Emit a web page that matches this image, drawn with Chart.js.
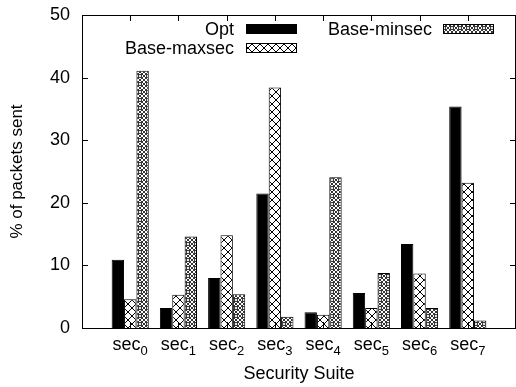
<!DOCTYPE html>
<html>
<head>
<meta charset="utf-8">
<script src="https://cdn.jsdelivr.net/npm/chart.js@4/dist/chart.umd.min.js"></script>
<style>
  html, body { margin: 0; padding: 0; background: #fff; }
  #wrap { width: 516px; height: 387px; }
</style>
</head>
<body>
<div id="wrap"><canvas id="chart" width="516" height="387"></canvas></div>
<script>
// data (blank categories at both ends give the gnuplot-style margin)
const suites = ["", "sec0", "sec1", "sec2", "sec3", "sec4", "sec5", "sec6", "sec7", ""];
const optValues = [null, 10.9, 3.2, 8.0, 21.5, 2.5, 5.6, 13.4, 35.4, null];
const maxsecValues = [null, 4.6, 5.3, 14.8, 38.4, 2.1, 3.2, 8.7, 23.2, null];
const minsecValues = [null, 41.1, 14.6, 5.4, 1.8, 24.1, 8.8, 3.2, 1.2, null];
const yTicks = [0, 10, 20, 30, 40, 50];

const FONT = "'Liberation Sans', Arial, Helvetica, sans-serif";

// patterns for the hatched bars
function makePattern(draw, size) {
  const c = document.createElement("canvas");
  c.width = size;
  c.height = size;
  const g = c.getContext("2d");
  g.fillStyle = "#fff";
  g.fillRect(0, 0, size, size);
  g.strokeStyle = "#000";
  g.fillStyle = "#000";
  g.lineWidth = 1;
  draw(g, size);
  return c.getContext("2d").createPattern(c, "repeat");
}

const crossPattern = makePattern((g, s) => {
  g.beginPath();
  g.moveTo(0, 0); g.lineTo(s, s);
  g.moveTo(s, 0); g.lineTo(0, s);
  g.stroke();
}, 8);

const densePattern = makePattern((g, s) => {
  g.lineWidth = 0.8;
  g.beginPath();
  for (let k = -s; k <= s; k += 4) {
    g.moveTo(k, 0); g.lineTo(k + s, s);
    g.moveTo(k + s, 0); g.lineTo(k, s);
  }
  g.stroke();
  g.fillStyle = "#fff";
  g.beginPath();
  g.arc(s / 2, s / 2, 1.6, 0, Math.PI * 2);
  g.fill();
  g.stroke();
}, 8);

// frame with inward tick marks, like gnuplot
const framePlugin = {
  id: "frame",
  afterDatasetsDraw(chart) {
    const { ctx, chartArea: a, scales } = chart;
    ctx.save();
    ctx.strokeStyle = "#000";
    ctx.lineWidth = 1;
    ctx.beginPath();
    yTicks.forEach((v) => {
      const y = Math.round(scales.y.getPixelForValue(v)) + 0.5;
      ctx.moveTo(a.left, y); ctx.lineTo(a.left + 6, y);
      ctx.moveTo(a.right, y); ctx.lineTo(a.right - 6, y);
    });
    suites.forEach((s, i) => {
      if (!s) return;
      const x = Math.round(scales.x.getPixelForValue(i)) + 0.5;
      ctx.moveTo(x, a.top); ctx.lineTo(x, a.top + 6);
      ctx.moveTo(x, a.bottom); ctx.lineTo(x, a.bottom - 6);
    });
    ctx.stroke();
    ctx.strokeRect(a.left + 0.5, a.top + 0.5, a.right - a.left - 1, a.bottom - a.top);
    ctx.restore();
  },
};

// x labels with subscript digit
const subLabelPlugin = {
  id: "subLabels",
  afterDraw(chart) {
    const { ctx, scales } = chart;
    ctx.save();
    ctx.fillStyle = "#000";
    ctx.textBaseline = "alphabetic";
    suites.forEach((s, i) => {
      if (!s) return;
      const base = s.slice(0, 3);
      const sub = s.slice(3);
      ctx.font = "18px " + FONT;
      const w1 = ctx.measureText(base).width;
      ctx.font = "13px " + FONT;
      const w2 = ctx.measureText(sub).width;
      const x0 = scales.x.getPixelForValue(i) - (w1 + w2) / 2;
      ctx.font = "18px " + FONT;
      ctx.textAlign = "left";
      ctx.fillText(base, x0, 350);
      ctx.font = "13px " + FONT;
      ctx.fillText(sub, x0 + w1, 355);
    });
    ctx.restore();
  },
};

// two-column key, text on the left of each sample
const keyPlugin = {
  id: "key",
  afterDraw(chart) {
    const { ctx } = chart;
    const ds = chart.data.datasets;
    const spots = [
      { idx: 0, textRight: 234, x: 246, y: 29 },
      { idx: 1, textRight: 234, x: 246, y: 48 },
      { idx: 2, textRight: 432, x: 443, y: 29 },
    ];
    ctx.save();
    ctx.font = "18px " + FONT;
    ctx.textAlign = "right";
    ctx.textBaseline = "middle";
    spots.forEach((p) => {
      const d = ds[p.idx];
      ctx.fillStyle = "#000";
      ctx.fillText(d.label, p.textRight, p.y + 1);
      ctx.fillStyle = d.backgroundColor;
      ctx.fillRect(p.x, p.y - 5, 51, 10);
      ctx.strokeStyle = "#000";
      ctx.lineWidth = 1;
      ctx.strokeRect(p.x + 0.5, p.y - 4.5, 50, 9);
    });
    ctx.restore();
  },
};

new Chart(document.getElementById("chart"), {
  type: "bar",
  data: {
    labels: suites,
    datasets: [
      { label: "Opt", data: optValues, backgroundColor: "#000", borderColor: "#000", borderWidth: 1 },
      { label: "Base-maxsec", data: maxsecValues, backgroundColor: crossPattern, borderColor: "#000", borderWidth: 1 },
      { label: "Base-minsec", data: minsecValues, backgroundColor: densePattern, borderColor: "#000", borderWidth: 1 },
    ],
  },
  options: {
    responsive: false,
    animation: false,
    devicePixelRatio: 1,
    layout: { padding: { top: 15, right: 0, left: 0, bottom: 0 } },
    datasets: { bar: { categoryPercentage: 0.77, barPercentage: 1.0 } },
    plugins: { legend: { display: false }, tooltip: { enabled: false } },
    scales: {
      x: {
        offset: false,
        grid: { display: false, drawTicks: false },
        border: { display: false },
        ticks: { display: false },
        title: {
          display: true,
          text: "Security Suite",
          color: "#000",
          font: { family: FONT, size: 18 },
          padding: { top: 0, bottom: 2 },
        },
        afterFit: (scale) => {
          scale.height = 59;
          scale.paddingLeft = 0;
          scale.paddingRight = 0;
        },
      },
      y: {
        min: 0,
        max: 50,
        grid: { display: false, drawTicks: false },
        border: { display: false },
        ticks: {
          stepSize: 10,
          padding: 12,
          color: "#000",
          font: { family: FONT, size: 18 },
        },
        afterBuildTicks: (scale) => { scale.ticks = yTicks.map((v) => ({ value: v })); },
        title: {
          display: true,
          text: "% of packets sent",
          color: "#000",
          font: { family: FONT, size: 17 },
          padding: { top: 7, bottom: 0 },
        },
        afterFit: (scale) => {
          scale.width = 82;
          scale.paddingTop = 0;
          scale.paddingBottom = 0;
        },
      },
    },
  },
  plugins: [framePlugin, subLabelPlugin, keyPlugin],
});
</script>
</body>
</html>
